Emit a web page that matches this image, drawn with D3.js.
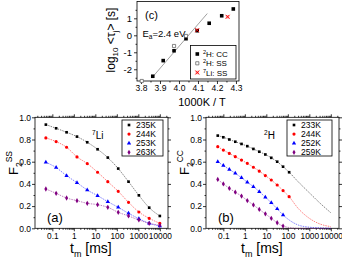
<!DOCTYPE html>
<html><head><meta charset="utf-8">
<script src="https://cdn.jsdelivr.net/npm/d3@7"></script>
<style>
body{margin:0;background:#fff}
svg{display:block}
text{font-family:"Liberation Sans",Arial,Helvetica,sans-serif;fill:#000}
</style></head>
<body><svg id="chart" width="342" height="264"></svg>
<script>
// ---------- panel (c) data ----------
const invT_CC   = [3.862, 3.917, 3.974, 4.037, 4.096, 4.159, 4.225, 4.286];
const logTau_CC = [-2.41, -1.49, -0.91, -0.20, 0.27, 0.71, 1.15, 1.55];
const invT_SSH   = [3.804, 3.974, 4.037];
const logTau_SSH = [-2.69, -0.63, -0.04];
const invT_SSLi   = [4.096, 4.256];
const logTau_SSLi = [0.30, 1.09];
const fitInvT  = [3.86, 4.149];
const fitLogTau = [-2.47, 1.28];
const cTicksX = [3.8, 3.9, 4.0, 4.1, 4.2, 4.3];
const cTicksY = [-2, -1, 0, 1];

// ---------- panel (a) data: 7Li F2SS ----------
const tmA = [0.05, 0.15, 0.46, 1.4, 4.2, 12.7, 38, 116, 350, 1060, 3200, 10000];
const labelsA = ["235K", "244K", "253K", "263K"];
const fA_235 = [0.934, 0.901, 0.865, 0.826, 0.775, 0.712, 0.637, 0.538, 0.42, 0.297, 0.186, 0.111];
const fA_244 = [0.814, 0.781, 0.730, 0.643, 0.583, 0.505, 0.42, 0.333, 0.234, 0.147, 0.09, 0.045];
const fA_253 = [0.595, 0.547, 0.474, 0.411, 0.345, 0.294, 0.240, 0.189, 0.135, 0.087, 0.045, 0.021];
const fA_263 = [0.354, 0.315, 0.273, 0.249, 0.225, 0.213, 0.189, 0.144, 0.111, 0.075, 0.045, 0.027];

// ---------- panel (b) data: 2H F2CC ----------
const tmB = [0.055, 0.1, 0.19, 0.36, 0.7, 1.3, 2.5, 4.7, 9, 17, 32, 60, 115];
const labelsB = ["233K", "244K", "252K", "259K"];
const fB_233 = [0.835, 0.82, 0.80, 0.78, 0.76, 0.74, 0.715, 0.69, 0.665, 0.635, 0.60, 0.555, 0.505];
const fB_244 = [0.735, 0.705, 0.675, 0.645, 0.615, 0.585, 0.55, 0.515, 0.475, 0.435, 0.39, 0.34, 0.285];
const fB_252 = [0.60, 0.565, 0.53, 0.495, 0.455, 0.415, 0.375, 0.33, 0.28, 0.23, 0.175, 0.12];
const fB_259 = [0.44, 0.40, 0.36, 0.325, 0.29, 0.25, 0.21, 0.17, 0.13, 0.09, 0.05, 0.02];
// fit-curve continuations beyond the data
const tmFitB = [300, 1000, 3000, 10000];
const fitB_233 = [0.42, 0.32, 0.23, 0.14];
const fitB_244 = [0.18, 0.09, 0.04, 0.015];
const fitB_252 = [0.03, 0.01, 0.004, 0.0];
const fitB_259 = [0.0, 0.0, 0.0, 0.0];

const tmTicks = [0.1, 1, 10, 100, 1000, 10000];
const fTicks = [0, 0.2, 0.4, 0.6, 0.8, 1.0];

const colors = ["#000000", "#ff0000", "#0000ff", "#800080"];
const shapes = [d3.symbolSquare, d3.symbolCircle, d3.symbolTriangle, d3.symbolDiamond];
const shapeSizes = [7, 8, 8, 8];

const svg = d3.select("#chart");

function styleAxis(g, fs) {
  g.select(".domain").remove();
  g.selectAll(".tick line").attr("stroke", "#000").attr("stroke-width", 0.8);
  g.selectAll(".tick text").style("font-size", fs + "px");
}

function logMinors(domain) {
  const out = [];
  for (let e = -3; e <= 5; e++) for (let m = 2; m <= 9; m++) {
    const v = m * Math.pow(10, e);
    if (v > domain[0] && v < domain[1]) out.push(v);
  }
  return out;
}

function bottomPanel(opt) {
  const x = d3.scaleLog().domain([0.0156, 24000]).range([opt.x0, opt.x1]);
  const y = d3.scaleLinear().domain([0, 1]).range([228.3, 117.3]);
  const g = svg.append("g");
  const minors = logMinors(x.domain());
  const yMin = [0.1, 0.3, 0.5, 0.7, 0.9];
  g.append("g").attr("transform", `translate(0,${y(0)})`)
    .call(d3.axisBottom(x).tickValues(tmTicks).tickSize(3).tickPadding(2).tickFormat(d => String(d)))
    .call(a => styleAxis(a, 8.3));
  g.append("g").attr("transform", `translate(0,${y(0)})`)
    .call(d3.axisBottom(x).tickValues(minors).tickSize(1.5).tickFormat(""))
    .call(a => styleAxis(a, 8.3));
  g.append("g").attr("transform", `translate(0,${y(1)})`)
    .call(d3.axisTop(x).tickValues(tmTicks).tickSize(3).tickFormat(""))
    .call(a => styleAxis(a, 8.3));
  g.append("g").attr("transform", `translate(0,${y(1)})`)
    .call(d3.axisTop(x).tickValues(minors).tickSize(1.5).tickFormat(""))
    .call(a => styleAxis(a, 8.3));
  g.append("g").attr("transform", `translate(${opt.x0},0)`)
    .call(d3.axisLeft(y).tickValues(fTicks).tickSize(3).tickPadding(1).tickFormat(d3.format(".1f")))
    .call(a => styleAxis(a, 8.5));
  g.append("g").attr("transform", `translate(${opt.x0},0)`)
    .call(d3.axisLeft(y).tickValues(yMin).tickSize(1.5).tickFormat(""))
    .call(a => styleAxis(a, 8.5));
  g.append("g").attr("transform", `translate(${opt.x1},0)`)
    .call(d3.axisRight(y).tickValues(fTicks).tickSize(3).tickFormat(""))
    .call(a => styleAxis(a, 8.5));
  g.append("g").attr("transform", `translate(${opt.x1},0)`)
    .call(d3.axisRight(y).tickValues(yMin).tickSize(1.5).tickFormat(""))
    .call(a => styleAxis(a, 8.5));
  g.append("rect").attr("x", opt.x0).attr("y", y(1)).attr("width", opt.x1 - opt.x0).attr("height", y(0) - y(1))
    .attr("fill", "none").attr("stroke", "#000").attr("stroke-width", 0.8);

  const line = d3.line().x(d => x(d[0])).y(d => y(d[1])).curve(d3.curveMonotoneX);
  opt.series.forEach((s, i) => {
    let pts = opt.tm.slice(0, s.length).map((t, k) => [t, s[k]]);
    let linePts = pts.slice();
    if (opt.fits) linePts = linePts.concat(opt.fitTm.map((t, k) => [t, opt.fits[i][k]]));
    g.append("path").attr("d", line(linePts)).attr("fill", "none")
      .attr("stroke", colors[i]).attr("stroke-width", 0.7).attr("stroke-opacity", 0.7)
      .attr("stroke-dasharray", "1.5,1");
    g.selectAll(null).data(pts).enter().append("path")
      .attr("transform", d => `translate(${x(d[0])},${y(d[1])})`)
      .attr("d", d3.symbol().type(shapes[i]).size(shapeSizes[i]))
      .attr("fill", colors[i]);
  });
  const L = opt.legend;
  g.append("rect").attr("x", L.x).attr("y", 120).attr("width", L.w).attr("height", 36)
    .attr("fill", "#fff").attr("stroke", "#000").attr("stroke-width", 0.8);
  opt.labels.forEach((lab, i) => {
    const yy = 125 + i * 9.1;
    g.append("path").attr("transform", `translate(${L.x + 7},${yy})`)
      .attr("d", d3.symbol().type(shapes[i]).size(shapeSizes[i])).attr("fill", colors[i]);
    g.append("text").attr("x", L.x + 14).attr("y", yy + 3).style("font-size", "8.5px").text(lab);
  });
  g.append("text").attr("x", opt.x0 + 12).attr("y", 222).style("font-size", "13px").text(opt.letter);
  const nl = g.append("text").attr("x", opt.nucX).attr("y", 138.5).style("font-size", "10px");
  nl.append("tspan").style("font-size", "6.5px").attr("dy", -4).text(opt.nucMass);
  nl.append("tspan").attr("dy", 4).text(opt.nucSym);
  const xl = g.append("text").attr("x", opt.x0 + 35).attr("y", 253).style("font-size", "14px");
  xl.append("tspan").text("t");
  xl.append("tspan").style("font-size", "9px").attr("dy", 4).text("m");
  xl.append("tspan").attr("dy", -4).text(" [ms]");
  const yl = g.append("text").attr("transform", `translate(${opt.x0 - 17},175) rotate(-90)`).style("font-size", "13px");
  yl.append("tspan").text("F");
  yl.append("tspan").style("font-size", "8.5px").attr("dy", 4).text("2");
  yl.append("tspan").style("font-size", "8.5px").attr("dy", -10).text(opt.ySup);
}

bottomPanel({x0: 35, x1: 168, tm: tmA, series: [fA_235, fA_244, fA_253, fA_263], labels: labelsA,
  legend: {x: 122, w: 41}, letter: "(a)", nucX: 92, nucMass: "7", nucSym: "Li", ySup: "SS"});
bottomPanel({x0: 206, x1: 339, tm: tmB, series: [fB_233, fB_244, fB_252, fB_259], labels: labelsB,
  legend: {x: 287, w: 45}, letter: "(b)", nucX: 264, nucMass: "2", nucSym: "H", ySup: "CC",
  fitTm: tmFitB, fits: [fitB_233, fitB_244, fitB_252, fitB_259]});

// ---------- panel (c) ----------
(function () {
  const bottom = 81;
  const x = d3.scaleLinear().domain([3.779, 4.316]).range([137, 239]);
  const y = d3.scaleLinear().domain([-2.69, 1.99]).range([bottom, 1.5]);
  const g = svg.append("g");
  const xm = [3.85, 3.95, 4.05, 4.15, 4.25];
  const ym = [-2.5, -1.5, -0.5, 0.5, 1.5];
  g.append("g").attr("transform", `translate(0,${bottom})`)
    .call(d3.axisBottom(x).tickValues(cTicksX).tickSize(3).tickPadding(1).tickFormat(d3.format(".1f")))
    .call(a => styleAxis(a, 8.5));
  g.append("g").attr("transform", `translate(0,${bottom})`)
    .call(d3.axisBottom(x).tickValues(xm).tickSize(1.5).tickFormat("")).call(a => styleAxis(a, 8.5));
  g.append("g").attr("transform", `translate(137,0)`)
    .call(d3.axisLeft(y).tickValues(cTicksY).tickSize(3).tickPadding(2).tickFormat(d => d))
    .call(a => styleAxis(a, 9.5));
  g.append("g").attr("transform", `translate(137,0)`)
    .call(d3.axisLeft(y).tickValues(ym).tickSize(1.5).tickFormat("")).call(a => styleAxis(a, 9));
  g.append("rect").attr("x", 137).attr("y", 1.5).attr("width", 102).attr("height", bottom - 1.5)
    .attr("fill", "none").attr("stroke", "#000").attr("stroke-width", 0.8);
  g.append("line").attr("x1", x(fitInvT[0])).attr("y1", y(fitLogTau[0]))
    .attr("x2", x(fitInvT[1])).attr("y2", y(fitLogTau[1]))
    .attr("stroke", "#888").attr("stroke-width", 0.8);
  const sq = d3.symbol().type(d3.symbolSquare).size(13);
  const cross = d3.symbol().type(d3.symbolX).size(12);
  invT_SSLi.forEach((v, k) => g.append("path").attr("transform", `translate(${x(v)},${y(logTau_SSLi[k])})`)
    .attr("d", sq).attr("fill", "#ffb3b3"));
  invT_CC.forEach((v, k) => g.append("path").attr("transform", `translate(${x(v)},${y(logTau_CC[k])})`)
    .attr("d", sq).attr("fill", "#000"));
  invT_SSH.forEach((v, k) => g.append("path").attr("transform", `translate(${x(v)},${y(logTau_SSH[k])})`)
    .attr("d", d3.symbol().type(d3.symbolSquare).size(10)).attr("fill", "#fff").attr("stroke", "#555").attr("stroke-width", 0.7));
  invT_SSLi.forEach((v, k) => g.append("path").attr("transform", `translate(${x(v)},${y(logTau_SSLi[k])})`)
    .attr("d", cross).attr("fill", "none").attr("stroke", "#ff0000").attr("stroke-width", 0.9));
  g.append("text").attr("x", 145).attr("y", 19).style("font-size", "11px").text("(c)");
  const ea = g.append("text").attr("x", 142.5).attr("y", 37).style("font-size", "9.5px");
  ea.append("tspan").text("E");
  ea.append("tspan").style("font-size", "6.5px").attr("dy", 2).text("a");
  ea.append("tspan").attr("dy", -2).text("=2.4 eV");
  g.append("rect").attr("x", 190.5).attr("y", 45.5).attr("width", 45.5).attr("height", 33.5)
    .attr("fill", "#fff").attr("stroke", "#000").attr("stroke-width", 0.8);
  const ly = [54, 63.3, 72.5];
  g.append("path").attr("transform", `translate(197.3,${ly[0]})`).attr("d", sq).attr("fill", "#000");
  g.append("path").attr("transform", `translate(197.3,${ly[1]})`).attr("d", d3.symbol().type(d3.symbolSquare).size(10))
    .attr("fill", "#fff").attr("stroke", "#555").attr("stroke-width", 0.7);
  g.append("path").attr("transform", `translate(197.3,${ly[2]})`).attr("d", sq).attr("fill", "#ffb3b3");
  g.append("path").attr("transform", `translate(197.3,${ly[2]})`).attr("d", cross).attr("fill", "none")
    .attr("stroke", "#ff0000").attr("stroke-width", 0.9);
  const legTxt = [["2", "H: CC"], ["2", "H: SS"], ["7", "Li: SS"]];
  legTxt.forEach((t, i) => {
    const tx = g.append("text").attr("x", 203).attr("y", ly[i] + 3).style("font-size", "8px");
    tx.append("tspan").style("font-size", "5.5px").attr("dy", -3).text(t[0]);
    tx.append("tspan").attr("dy", 3).text(t[1]);
  });
  g.append("text").attr("x", 202).attr("y", 106).attr("text-anchor", "middle").style("font-size", "11px").text("1000K / T");
  const yl = g.append("text").attr("transform", "translate(115,40) rotate(-90)").attr("text-anchor", "middle").style("font-size", "12px");
  yl.append("tspan").text("log");
  yl.append("tspan").style("font-size", "8px").attr("dy", 3).text("10");
  yl.append("tspan").attr("dy", -3).text(" <τ");
  yl.append("tspan").style("font-size", "8px").attr("dy", 3).text("j");
  yl.append("tspan").attr("dy", -3).text("> [s]");
})();
</script></body></html>
